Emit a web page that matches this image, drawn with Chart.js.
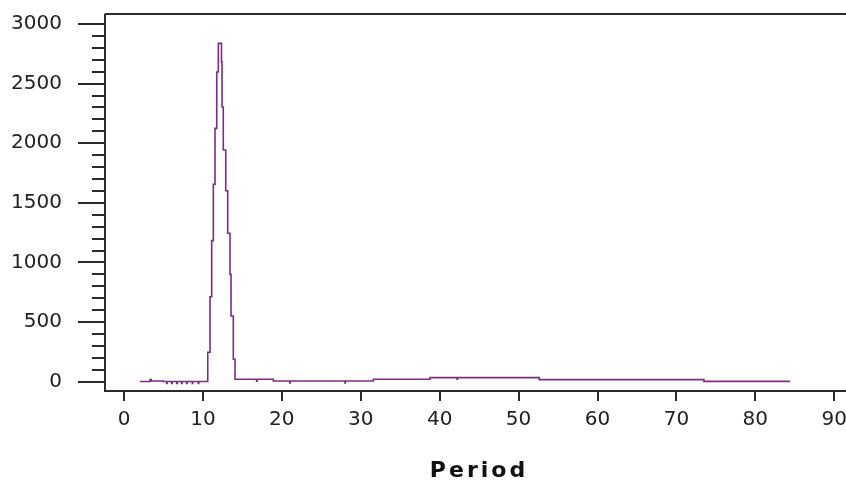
<!DOCTYPE html>
<html>
<head>
<meta charset="utf-8">
<script src="https://cdn.jsdelivr.net/npm/chart.js@4"></script>
<style>
  html, body { margin: 0; padding: 0; background: #fff; }
  canvas { display: block; }
</style>
</head>
<body>
<canvas id="periodChart" width="846" height="482"></canvas>
<script>
// periodogram values (stepped line)
const periods = [2.03, 3.25, 3.3, 3.45, 4.95, 5.41, 5.46, 6.04, 6.09, 6.68, 6.73, 7.31, 7.36, 7.94, 7.99, 8.66, 8.71, 9.41, 9.46,
    10.61, 10.90, 11.11, 11.32, 11.53, 11.75, 11.95, 12.35, 12.42, 12.58, 12.89, 13.14, 13.43, 13.56, 13.85, 14.07,
    16.8, 16.85, 18.92, 21.0, 21.05, 28.0, 28.05, 31.59, 38.77, 42.2, 42.25, 52.62, 73.49, 84.39];
const power = [2, 2, 18, 6, 2, -14, 2, -14, 2, -14, 2, -14, 2, -14, 2, -14, 2, -14, 2,
    247, 713, 1183, 1656, 2125, 2597, 2838, 2680, 2304, 1943, 1602, 1245, 901, 551, 188, 20,
    5, 20, 6, -10, 6, -10, 6, 20, 34, 20, 34, 17, 3, 3];
const xTicks = [0, 10, 20, 30, 40, 50, 60, 70, 80, 90];
const yTicks = [0, 500, 1000, 1500, 2000, 2500, 3000];
const yMinorStep = 100;
const xTitle = 'Period';

const axisColor = '#2b2b2b';
const lineColor = '#7d2c80';

const points = periods.map((p, i) => ({ x: p, y: power[i] }));

function noPadding(scale) {
    scale.paddingTop = 0;
    scale.paddingBottom = 0;
    scale.paddingLeft = 0;
    scale.paddingRight = 0;
}

// frame, tick marks and axis title drawn from the scales
const axesPlugin = {
    id: 'axesPlugin',
    afterDraw(chart) {
        const ctx = chart.ctx;
        const area = chart.chartArea;
        const xs = chart.scales.x;
        const ys = chart.scales.y;
        ctx.save();
        ctx.strokeStyle = axisColor;
        ctx.lineWidth = 2;
        ctx.beginPath();
        ctx.moveTo(area.left, area.top);
        ctx.lineTo(area.right, area.top);
        ctx.moveTo(area.left, area.top);
        ctx.lineTo(area.left, area.bottom);
        ctx.lineTo(area.right, area.bottom);
        ctx.stroke();

        ctx.beginPath();
        xTicks.forEach(v => {
            const px = Math.round(xs.getPixelForValue(v));
            ctx.moveTo(px, area.bottom);
            ctx.lineTo(px, area.bottom + 10);
        });
        for (let v = 0; v <= 3000; v += yMinorStep) {
            const py = Math.round(ys.getPixelForValue(v));
            const len = (v % 500 === 0) ? 27 : 13;
            ctx.moveTo(area.left - len, py);
            ctx.lineTo(area.left, py);
        }
        ctx.stroke();

        ctx.fillStyle = '#111';
        ctx.font = 'bold 22px "DejaVu Sans", sans-serif';
        ctx.textBaseline = 'alphabetic';
        ctx.textAlign = 'left';
        const spacing = 3;
        if ('letterSpacing' in ctx) ctx.letterSpacing = spacing + 'px';
        const w = ctx.measureText(xTitle).width - spacing;
        ctx.fillText(xTitle, 477.5 - w / 2, 477);
        ctx.restore();
    }
};

const chart = new Chart(document.getElementById('periodChart').getContext('2d'), {
    type: 'line',
    data: {
        datasets: [{
            data: points,
            borderColor: lineColor,
            borderWidth: 1.6,
            pointRadius: 0,
            stepped: true,
            fill: false
        }]
    },
    options: {
        responsive: false,
        animation: false,
        devicePixelRatio: 1,
        layout: { padding: { top: 14, left: 0, right: 0, bottom: 0 } },
        plugins: {
            legend: { display: false },
            tooltip: { enabled: false }
        },
        scales: {
            x: {
                type: 'linear',
                min: -2.41,
                max: 91.49,
                afterBuildTicks: scale => { scale.ticks = xTicks.map(v => ({ value: v })); },
                afterFit: scale => { scale.height = 91; noPadding(scale); },
                grid: { display: false, drawTicks: false },
                border: { display: false },
                ticks: {
                    padding: 17,
                    color: '#222',
                    maxRotation: 0,
                    autoSkip: false,
                    callback: v => String(v),
                    font: { family: '"DejaVu Sans", sans-serif', size: 20 }
                }
            },
            y: {
                type: 'linear',
                min: -78,
                max: 3084,
                afterBuildTicks: scale => { scale.ticks = yTicks.map(v => ({ value: v })); },
                afterFit: scale => { scale.width = 105; noPadding(scale); },
                grid: { display: false, drawTicks: false },
                border: { display: false },
                ticks: {
                    padding: 43,
                    color: '#222',
                    autoSkip: false,
                    callback: v => String(v),
                    font: { family: '"DejaVu Sans", sans-serif', size: 20 }
                }
            }
        }
    },
    plugins: [axesPlugin]
});
</script>
</body>
</html>
